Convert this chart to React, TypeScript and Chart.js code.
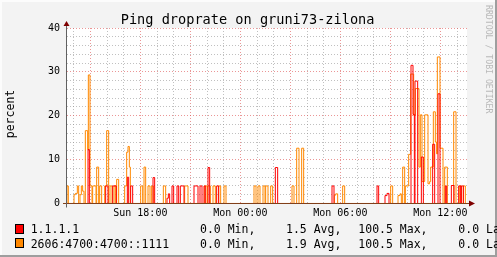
import { useEffect, useRef } from 'react';
import { Chart, registerables } from 'chart.js';
Chart.register(...registerables);

const MONO = '"DejaVu Sans Mono", monospace';

// time axis: hours relative to Mon 00:00
const X_MIN = -10.4;
const X_MAX = 13.6;
const xTickHours = [-6, 0, 6, 12];
const xTickLabels = ['Sun 18:00', 'Mon 00:00', 'Mon 06:00', 'Mon 12:00'];
const yTickValues = [0, 10, 20, 30, 40];
const Y_MIN = -0.1143; // half a pixel below zero so the baseline lands on a pixel row
const Y_MAX = 40;

// series 1: 1.1.1.1 (drop rate %, step segments)
const redStart = [-9.14, -8.08, -7.66, -6.78, -6.58, -5.24, -4.40, -4.32, -4.10, -3.80, -3.60, -2.78, -2.42, -2.18, -1.94, -1.42, 2.10, 5.50, 8.20, 8.68, 8.80, 10.24, 10.36, 10.48, 10.86, 11.54, 11.86, 12.30, 12.66, 13.10, 13.26];
const redEnd = [-9.06, -7.94, -7.44, -6.70, -6.46, -5.14, -4.32, -4.24, -4.00, -3.70, -3.38, -2.54, -2.30, -2.10, -1.84, -1.30, 2.24, 5.62, 8.30, 8.80, 8.92, 10.36, 10.44, 10.64, 10.98, 11.66, 11.98, 12.38, 12.82, 13.22, 13.38];
const redValue = [12.3, 4.0, 4.0, 6.0, 4.0, 5.9, 1.2, 2.2, 4.0, 4.0, 4.0, 4.0, 4.0, 4.0, 8.2, 4.0, 8.2, 4.0, 4.0, 1.8, 2.3, 31.5, 20.3, 27.9, 10.6, 13.5, 25.0, 4.0, 4.1, 4.0, 4.0];

// series 2: 2606:4700:4700::1111
const orangeStart = [-10.40, -9.98, -9.90, -9.78, -9.62, -9.54, -9.46, -9.30, -9.16, -9.12, -9.02, -8.86, -8.62, -8.44, -8.14, -8.02, -7.82, -7.58, -7.42, -6.94, -6.82, -6.74, -6.66, -5.98, -5.78, -5.54, -5.32, -4.62, -3.34, -2.14, -1.96, -1.64, -1.30, -0.98, 0.82, 1.06, 1.36, 1.52, 1.82, 3.10, 3.38, 3.68, 5.64, 5.72, 6.14, 9.02, 9.46, 9.58, 9.74, 9.90, 10.10, 10.22, 10.40, 10.50, 10.72, 10.80, 10.90, 11.06, 11.26, 11.36, 11.42, 11.58, 11.70, 11.78, 11.82, 11.98, 12.26, 12.80, 13.14, 13.38];
const orangeEnd = [-10.32, -9.90, -9.78, -9.70, -9.54, -9.46, -9.38, -9.16, -9.12, -9.02, -8.90, -8.66, -8.50, -8.32, -8.02, -7.90, -7.70, -7.50, -7.30, -6.82, -6.74, -6.66, -6.60, -5.86, -5.68, -5.42, -5.22, -4.48, -3.14, -2.00, -1.80, -1.50, -1.18, -0.86, 0.94, 1.18, 1.48, 1.66, 1.94, 3.22, 3.52, 3.80, 5.72, 5.84, 6.26, 9.14, 9.58, 9.66, 9.86, 10.10, 10.22, 10.40, 10.50, 10.72, 10.80, 10.90, 11.06, 11.26, 11.36, 11.42, 11.58, 11.70, 11.78, 11.82, 11.98, 12.16, 12.42, 12.94, 13.26, 13.50];
const orangeValue = [4.0, 2.0, 2.3, 4.0, 2.0, 4.0, 2.8, 16.6, 12.3, 29.3, 4.0, 4.0, 8.3, 4.0, 4.0, 16.6, 4.0, 4.0, 5.5, 4.0, 11.7, 13.0, 8.3, 4.0, 8.3, 4.0, 4.0, 4.0, 4.0, 4.0, 4.0, 4.0, 4.0, 4.0, 4.0, 4.0, 4.0, 4.0, 4.0, 4.0, 12.6, 12.6, 1.9, 2.2, 4.0, 4.0, 1.8, 2.2, 8.3, 4.0, 11.2, 29.5, 20.1, 26.2, 8.3, 20.2, 5.0, 20.2, 4.5, 5.0, 8.3, 20.9, 14.0, 11.3, 33.4, 12.6, 8.3, 20.9, 4.0, 4.0];

// legend
const seriesNames = ['1.1.1.1', '2606:4700:4700::1111'];
const minVals = ['0.0', '0.0'];
const avgVals = ['1.5', '1.9'];
const maxVals = ['100.5', '100.5'];
const lastVals = ['0.0', '0.0'];

const TITLE = 'Ping droprate on gruni73-zilona';
const Y_LABEL = 'percent';
const WATERMARK = 'RRDTOOL / TOBI OETIKER';

const RED = '#FF0000';
const ORANGE = '#FF8800';
const MINOR = 'rgba(140,140,140,0.55)';
const MAJOR = 'rgba(222,80,80,0.6)';

function buildSteps(starts: number[], ends: number[], values: number[]) {
  const pts: { x: number; y: number }[] = [{ x: X_MIN, y: 0 }];
  for (let i = 0; i < starts.length; i++) {
    pts.push({ x: starts[i], y: values[i] });
    const next = i + 1 < starts.length ? starts[i + 1] : Infinity;
    if (next > ends[i] + 1e-9) pts.push({ x: ends[i], y: 0 });
  }
  pts.push({ x: X_MAX, y: 0 });
  return pts;
}

const framePlugin = {
  id: 'frame',
  beforeDraw(chart: any) {
    const { ctx, chartArea, width, height } = chart;
    ctx.save();
    ctx.fillStyle = '#F3F3F3';
    ctx.fillRect(0, 0, width, height);
    ctx.fillStyle = '#FFFFFF';
    ctx.fillRect(chartArea.left, chartArea.top, chartArea.right - chartArea.left, chartArea.bottom - chartArea.top);
    // 3d border
    ctx.fillStyle = '#FCFCFC';
    ctx.fillRect(0, 0, width, 2);
    ctx.fillRect(0, 0, 2, height);
    ctx.fillStyle = '#9E9E9E';
    ctx.fillRect(0, height - 2, width, 2);
    ctx.fillRect(width - 2, 0, 2, height);
    ctx.restore();
  },
  afterDatasetsDraw(chart: any) {
    const { ctx, chartArea } = chart;
    const { left, right, top } = chartArea;
    const y0 = chart.scales.y.getPixelForValue(0);
    ctx.save();
    // x axis
    ctx.strokeStyle = '#80401A';
    ctx.lineWidth = 1;
    ctx.beginPath();
    ctx.moveTo(left - 4, y0);
    ctx.lineTo(right + 3, y0);
    ctx.stroke();
    // y axis
    ctx.strokeStyle = '#606060';
    ctx.beginPath();
    ctx.moveTo(left - 0.5, y0 + 4);
    ctx.lineTo(left - 0.5, top - 3);
    ctx.stroke();
    // arrows
    ctx.fillStyle = '#7F0000';
    ctx.beginPath();
    ctx.moveTo(left - 0.5, top - 7);
    ctx.lineTo(left + 2.5, top - 2);
    ctx.lineTo(left - 3.5, top - 2);
    ctx.closePath();
    ctx.fill();
    ctx.beginPath();
    ctx.moveTo(right + 8, y0);
    ctx.lineTo(right + 2, y0 - 3);
    ctx.lineTo(right + 2, y0 + 3);
    ctx.closePath();
    ctx.fill();
    ctx.restore();
  },
  afterDraw(chart: any) {
    const { ctx } = chart;
    ctx.save();
    ctx.fillStyle = '#000';
    ctx.textBaseline = 'alphabetic';
    // title
    ctx.font = `13.6px ${MONO}`;
    ctx.textAlign = 'center';
    ctx.fillText(TITLE, 247.6, 24);
    // y label
    ctx.save();
    ctx.font = `11.5px ${MONO}`;
    ctx.translate(13.5, 114);
    ctx.rotate(-Math.PI / 2);
    ctx.fillText(Y_LABEL, 0, 0);
    ctx.restore();
    // watermark
    ctx.save();
    ctx.font = `8.2px ${MONO}`;
    ctx.fillStyle = '#B8B8B8';
    ctx.textAlign = 'left';
    ctx.translate(486, 5);
    ctx.rotate(Math.PI / 2);
    ctx.fillText(WATERMARK, 0, 0);
    ctx.restore();
    // legend
    const colors = [RED, ORANGE];
    const baselines = [233.3, 247.7];
    const boxTops = [224.5, 238.5];
    ctx.font = `11.5px ${MONO}`;
    ctx.textAlign = 'left';
    for (let i = 0; i < seriesNames.length; i++) {
      ctx.fillStyle = colors[i];
      ctx.fillRect(15.5, boxTops[i], 8, 9);
      ctx.strokeStyle = '#000';
      ctx.lineWidth = 1;
      ctx.strokeRect(15.5, boxTops[i], 8, 9);
      ctx.fillStyle = '#000';
      const y = baselines[i];
      ctx.fillText(seriesNames[i], 30.7, y);
      ctx.fillText(`${minVals[i]} Min,`, 200, y);
      ctx.fillText(`${avgVals[i]} Avg,`, 286, y);
      ctx.fillText(`${maxVals[i]} Max,`, 358.3, y);
      ctx.fillText(`${lastVals[i]} Last`, 458.3, y);
    }
    ctx.restore();
  },
};

export default function App() {
  const ref = useRef<HTMLCanvasElement>(null);
  useEffect(() => {
    document.body.style.margin = '0';
    const canvas = ref.current!;
    const chart = new Chart(canvas, {
      type: 'line',
      data: {
        datasets: [
          {
            label: seriesNames[0],
            data: buildSteps(redStart, redEnd, redValue),
            borderColor: RED,
            borderWidth: 1,
            stepped: 'before',
            pointRadius: 0,
            fill: false,
          },
          {
            label: seriesNames[1],
            data: buildSteps(orangeStart, orangeEnd, orangeValue),
            borderColor: ORANGE,
            borderWidth: 1,
            stepped: 'before',
            pointRadius: 0,
            fill: false,
          },
        ],
      },
      options: {
        animation: false,
        responsive: false,
        events: [],
        layout: { padding: { left: 0, right: 30, top: 28, bottom: 0 } },
        scales: {
          x: {
            type: 'linear',
            min: X_MIN,
            max: X_MAX,
            afterFit: (s: any) => { s.height = 53; },
            afterBuildTicks: (s: any) => {
              const t = [];
              for (let h = Math.ceil(X_MIN); h <= Math.floor(X_MAX); h++) t.push({ value: h });
              s.ticks = t;
            },
            ticks: {
              autoSkip: false,
              maxRotation: 0,
              minRotation: 0,
              padding: 3,
              color: '#000',
              font: { family: MONO, size: 10 },
              callback: (v: any) => {
                const i = xTickHours.indexOf(Number(v));
                return i >= 0 ? xTickLabels[i] : '';
              },
            },
            grid: {
              drawTicks: false,
              lineWidth: 1,
              color: (c: any) => (c.tick && Math.abs(c.tick.value % 3) === 0 ? MAJOR : MINOR),
            },
            border: { display: false, dash: [1, 2] },
          },
          y: {
            type: 'linear',
            min: Y_MIN,
            max: Y_MAX,
            afterFit: (s: any) => { s.width = 67; },
            afterBuildTicks: (s: any) => {
              const t = [];
              for (let v = 0; v <= 40; v += 2) t.push({ value: v });
              s.ticks = t;
            },
            ticks: {
              autoSkip: false,
              padding: 7,
              color: '#000',
              font: { family: MONO, size: 10 },
              callback: (v: any) => (yTickValues.includes(Number(v)) ? String(v) : ''),
            },
            grid: {
              drawTicks: false,
              lineWidth: 1,
              color: (c: any) => (c.tick && c.tick.value % 10 === 0 ? MAJOR : MINOR),
            },
            border: { display: false, dash: [1, 2] },
          },
        },
        plugins: {
          legend: { display: false },
          tooltip: { enabled: false },
          title: { display: false },
        },
      },
      plugins: [framePlugin],
    } as any);
    return () => chart.destroy();
  }, []);
  return (
    <div style={{ width: 497, height: 257 }}>
      <canvas ref={ref} width={497} height={257} style={{ display: 'block', width: 497, height: 257 }} />
    </div>
  );
}
